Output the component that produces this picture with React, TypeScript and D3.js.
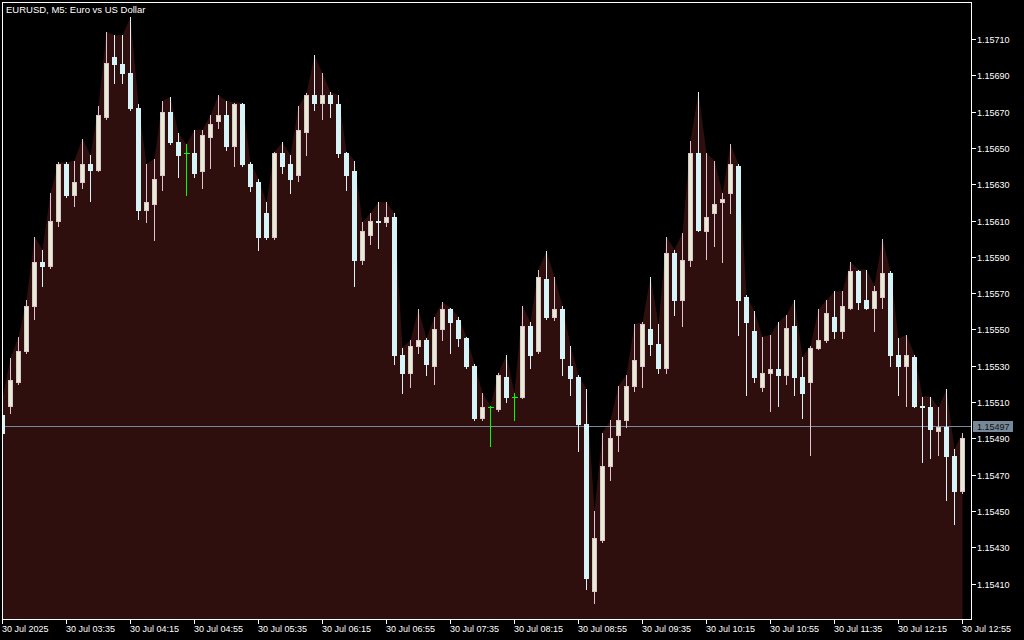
import React from "react";
import { scaleLinear, area, curveLinear } from "d3";

const symbolTitle = "EURUSD, M5:  Euro vs US Dollar";

// 5 minute bars, 30 Jul 02:55 .. 12:55
const opens = [
	1.15503, 1.15508, 1.15521, 1.15538, 1.15563, 1.15587, 1.15585, 1.15610, 1.15641, 1.15624,
	1.15631, 1.15641, 1.15638, 1.15667, 1.15700, 1.15696, 1.15691, 1.15672, 1.15616, 1.15619,
	1.15635, 1.15670, 1.15653, 1.15647, 1.15647, 1.15637, 1.15656, 1.15665, 1.15668, 1.15651,
	1.15674, 1.15641, 1.15631, 1.15614, 1.15601, 1.15647, 1.15641, 1.15635, 1.15659, 1.15679,
	1.15675, 1.15679, 1.15674, 1.15647, 1.15637, 1.15588, 1.15602, 1.15610, 1.15609, 1.15612,
	1.15536, 1.15526, 1.15541, 1.15544, 1.15530, 1.15550, 1.15561, 1.15555, 1.15545, 1.15530,
	1.15501, 1.15507, 1.15506, 1.15524, 1.15513, 1.15513, 1.15552, 1.15538, 1.15578, 1.15557,
	1.15561, 1.15530, 1.15524, 1.15498, 1.15406, 1.15434, 1.15475, 1.15492, 1.15500, 1.15519,
	1.15530, 1.15550, 1.15542, 1.15529, 1.15592, 1.15566, 1.15588, 1.15647, 1.15604, 1.15614,
	1.15620, 1.15625, 1.15640, 1.15568, 1.15549, 1.15518, 1.15526, 1.15528, 1.15525, 1.15552,
	1.15524, 1.15521, 1.15540, 1.15544, 1.15557, 1.15549, 1.15562, 1.15582, 1.15566, 1.15562,
	1.15568, 1.15581, 1.15536, 1.15530, 1.15535, 1.15508, 1.15507, 1.15494, 1.15496, 1.15480,
	1.15461
];

const highs = [
	1.15512, 1.15534, 1.15546, 1.15566, 1.15601, 1.15594, 1.15625, 1.15642, 1.15642, 1.15643,
	1.15655, 1.15646, 1.15673, 1.15714, 1.15712, 1.15712, 1.15722, 1.15674, 1.15641, 1.15644,
	1.15676, 1.15678, 1.15658, 1.15652, 1.15660, 1.15660, 1.15668, 1.15679, 1.15676, 1.15675,
	1.15675, 1.15642, 1.15633, 1.15620, 1.15648, 1.15653, 1.15646, 1.15673, 1.15680, 1.15701,
	1.15691, 1.15681, 1.15679, 1.15648, 1.15643, 1.15609, 1.15614, 1.15620, 1.15620, 1.15614,
	1.15540, 1.15544, 1.15561, 1.15545, 1.15557, 1.15565, 1.15562, 1.15557, 1.15546, 1.15531,
	1.15515, 1.15508, 1.15526, 1.15536, 1.15515, 1.15563, 1.15554, 1.15583, 1.15593, 1.15579,
	1.15563, 1.15541, 1.15525, 1.15517, 1.15450, 1.15493, 1.15500, 1.15519, 1.15525, 1.15553,
	1.15554, 1.15579, 1.15553, 1.15601, 1.15594, 1.15603, 1.15654, 1.15681, 1.15647, 1.15643,
	1.15625, 1.15652, 1.15641, 1.15569, 1.15560, 1.15546, 1.15547, 1.15554, 1.15558, 1.15566,
	1.15535, 1.15541, 1.15561, 1.15566, 1.15571, 1.15571, 1.15587, 1.15583, 1.15583, 1.15574,
	1.15600, 1.15582, 1.15545, 1.15547, 1.15536, 1.15513, 1.15513, 1.15507, 1.15517, 1.15484,
	1.15493
];

const lows = [
	1.15492, 1.15504, 1.15520, 1.15537, 1.15556, 1.15574, 1.15584, 1.15607, 1.15623, 1.15618,
	1.15628, 1.15621, 1.15637, 1.15666, 1.15686, 1.15686, 1.15671, 1.15611, 1.15609, 1.15599,
	1.15627, 1.15652, 1.15634, 1.15624, 1.15634, 1.15628, 1.15639, 1.15661, 1.15649, 1.15640,
	1.15640, 1.15626, 1.15594, 1.15600, 1.15600, 1.15636, 1.15625, 1.15632, 1.15646, 1.15671,
	1.15666, 1.15667, 1.15645, 1.15627, 1.15574, 1.15586, 1.15597, 1.15595, 1.15607, 1.15531,
	1.15515, 1.15518, 1.15537, 1.15525, 1.15520, 1.15544, 1.15537, 1.15541, 1.15529, 1.15500,
	1.15500, 1.15486, 1.15505, 1.15510, 1.15500, 1.15512, 1.15529, 1.15537, 1.15556, 1.15555,
	1.15525, 1.15514, 1.15483, 1.15407, 1.15399, 1.15433, 1.15467, 1.15483, 1.15496, 1.15516,
	1.15518, 1.15536, 1.15526, 1.15526, 1.15558, 1.15552, 1.15585, 1.15604, 1.15589, 1.15596,
	1.15587, 1.15614, 1.15547, 1.15514, 1.15521, 1.15516, 1.15505, 1.15508, 1.15520, 1.15514,
	1.15501, 1.15481, 1.15539, 1.15543, 1.15545, 1.15545, 1.15561, 1.15561, 1.15561, 1.15549,
	1.15562, 1.15530, 1.15514, 1.15508, 1.15507, 1.15477, 1.15479, 1.15481, 1.15456, 1.15443,
	1.15460
];

const closes = [
	1.15493, 1.15522, 1.15538, 1.15563, 1.15587, 1.15585, 1.15610, 1.15641, 1.15624, 1.15631,
	1.15641, 1.15638, 1.15668, 1.15697, 1.15696, 1.15691, 1.15672, 1.15616, 1.15620, 1.15633,
	1.15670, 1.15653, 1.15646, 1.15647, 1.15636, 1.15657, 1.15663, 1.15668, 1.15651, 1.15674,
	1.15641, 1.15629, 1.15601, 1.15601, 1.15647, 1.15640, 1.15633, 1.15660, 1.15679, 1.15675,
	1.15679, 1.15675, 1.15647, 1.15635, 1.15588, 1.15604, 1.15610, 1.15609, 1.15612, 1.15536,
	1.15526, 1.15541, 1.15544, 1.15531, 1.15550, 1.15561, 1.15554, 1.15545, 1.15530, 1.15501,
	1.15507, 1.15507, 1.15525, 1.15513, 1.15513, 1.15552, 1.15536, 1.15579, 1.15557, 1.15561,
	1.15534, 1.15523, 1.15498, 1.15413, 1.15435, 1.15475, 1.15490, 1.15500, 1.15519, 1.15533,
	1.15553, 1.15542, 1.15529, 1.15592, 1.15566, 1.15588, 1.15647, 1.15605, 1.15612, 1.15619,
	1.15622, 1.15641, 1.15566, 1.15554, 1.15524, 1.15526, 1.15528, 1.15525, 1.15551, 1.15524,
	1.15515, 1.15540, 1.15544, 1.15559, 1.15549, 1.15563, 1.15582, 1.15565, 1.15562, 1.15571,
	1.15581, 1.15536, 1.15530, 1.15536, 1.15508, 1.15507, 1.15495, 1.15496, 1.15480, 1.15461,
	1.15490
];

const priceTicks = [
	1.15710, 1.15690, 1.15670, 1.15650, 1.15630, 1.15610, 1.15590, 1.15570,
	1.15550, 1.15530, 1.15510, 1.15490, 1.15470, 1.15450, 1.15430, 1.15410
];

// one label every 8 bars
const timeLabels = [
	"30 Jul 2025", "30 Jul 03:35", "30 Jul 04:15", "30 Jul 04:55", "30 Jul 05:35", "30 Jul 06:15",
	"30 Jul 06:55", "30 Jul 07:35", "30 Jul 08:15", "30 Jul 08:55", "30 Jul 09:35", "30 Jul 10:15",
	"30 Jul 10:55", "30 Jul 11:35", "30 Jul 12:15", "30 Jul 12:55"
];
const labelEvery = 8;

const bidPrice = 1.15497;

const W = 1024;
const H = 640;
const frame = { left: 2.5, top: 2.5, right: 971.5, bottom: 619.5 };

const colors = {
	bg: "#000000",
	frame: "#ffffff",
	area: "#2f0f0e",
	bullFill: "#e4edcf",
	bullLine: "#dec2d2",
	bear: "#d6f3f7",
	doji: "#00ff00",
	bid: "#778899",
	text: "#ffffff"
};

const font = "'Liberation Sans', Arial, sans-serif";

export default function App() {
	const x = scaleLinear().domain([0, opens.length - 1]).range([2.5, 2.5 + 8 * (opens.length - 1)]);
	const y = scaleLinear().domain([1.15410, 1.15710]).range([583.5, 39]);

	const areaPath = area<number>()
		.x((_, i) => x(i))
		.y0(frame.bottom)
		.y1((d) => y(d))
		.curve(curveLinear)(highs) ?? "";

	const bidY = Math.round(y(bidPrice)) + 0.5;

	return (
		<svg
			width={W}
			height={H}
			style={{ position: "absolute", left: 0, top: 0, display: "block", background: colors.bg }}
			fontFamily={font}
		>
			<rect x={0} y={0} width={W} height={H} fill={colors.bg} />
			<defs>
				<clipPath id="plot">
					<rect x={3} y={3} width={968} height={616} />
				</clipPath>
			</defs>

			<g clipPath="url(#plot)">
				<path d={areaPath} fill={colors.area} />
				<line x1={3} x2={971} y1={bidY} y2={bidY} stroke={colors.bid} strokeWidth={1} shapeRendering="crispEdges" />

				{opens.map((o, i) => {
					const c = closes[i];
					const cx = Math.floor(x(i)) + 0.5;
					const yHi = Math.round(y(highs[i]));
					const yLo = Math.round(y(lows[i]));
					const yTop = Math.round(y(Math.max(o, c)));
					const yBot = Math.round(y(Math.min(o, c)));
					if (o === c) {
						return (
							<g key={i} shapeRendering="crispEdges">
								<line x1={cx} x2={cx} y1={yHi} y2={yLo + 1} stroke={colors.doji} />
								<line x1={cx - 3} x2={cx + 3} y1={yTop + 0.5} y2={yTop + 0.5} stroke={colors.doji} />
							</g>
						);
					}
					const bull = c > o;
					if (bull) {
						return (
							<g key={i} shapeRendering="crispEdges">
								<line x1={cx} x2={cx} y1={yHi} y2={yLo + 1} stroke={colors.bullLine} />
								<rect
									x={cx - 2}
									y={yTop + 0.5}
									width={4}
									height={Math.max(yBot - yTop, 1)}
									fill={colors.bullFill}
									stroke={colors.bullLine}
								/>
							</g>
						);
					}
					return (
						<g key={i} shapeRendering="crispEdges">
							<line x1={cx} x2={cx} y1={yHi} y2={yLo + 1} stroke={colors.bear} />
							<rect
								x={cx - 2.5}
								y={yTop}
								width={5}
								height={Math.max(yBot - yTop + 1, 2)}
								fill={colors.bear}
							/>
						</g>
					);
				})}
			</g>

			<rect
				x={frame.left}
				y={frame.top}
				width={frame.right - frame.left}
				height={frame.bottom - frame.top}
				fill="none"
				stroke={colors.frame}
				shapeRendering="crispEdges"
			/>

			<text x={6} y={13} fill={colors.text} fontSize={9.5}>{symbolTitle}</text>

			{priceTicks.map((p) => {
				const ty = Math.round(y(p)) + 0.5;
				return (
					<g key={p}>
						<line x1={972} x2={976} y1={ty} y2={ty} stroke={colors.frame} shapeRendering="crispEdges" />
						<text x={977} y={ty} dy="0.35em" fill={colors.text} fontSize={9}>{p.toFixed(5)}</text>
					</g>
				);
			})}

			<rect x={973} y={bidY - 5.5} width={40} height={11} fill={colors.bid} />
			<text x={977} y={bidY} dy="0.35em" fill="#111111" fontSize={9}>{bidPrice.toFixed(5)}</text>

			{timeLabels.map((label, k) => {
				const tx = Math.floor(x(k * labelEvery)) + 0.5;
				return (
					<g key={label}>
						<line x1={tx} x2={tx} y1={620} y2={624} stroke={colors.frame} shapeRendering="crispEdges" />
						<text x={tx - 0.5} y={632} fill={colors.text} fontSize={9}>{label}</text>
					</g>
				);
			})}
		</svg>
	);
}
